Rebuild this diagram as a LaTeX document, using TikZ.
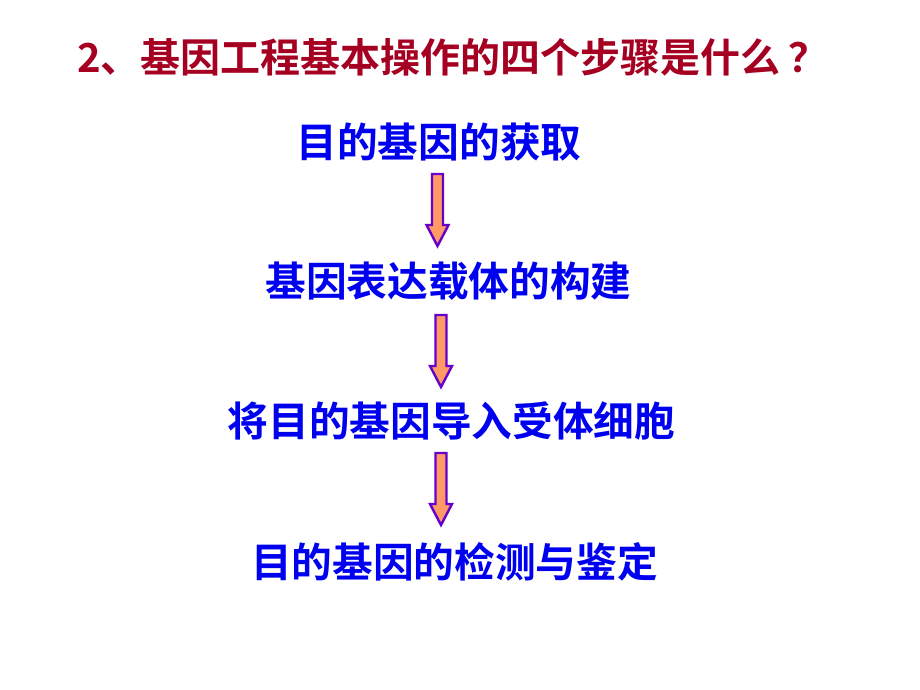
\documentclass[tikz,border=0pt]{standalone}
\usepackage{fontspec}
\newfontfamily\cjk{Noto Sans CJK SC Bold}
\definecolor{titlered}{HTML}{A50021}
\definecolor{stepblue}{HTML}{0000F0}
\definecolor{arrowfill}{HTML}{FF9966}
\definecolor{arrowline}{HTML}{6600CC}
\begin{document}
\begin{tikzpicture}[x=1pt,y=-1pt,
  titletext/.style={font=\cjk\fontsize{40}{44}\selectfont, text=titlered, inner sep=0pt},
  steptext/.style={font=\cjk\fontsize{40.7}{44}\selectfont, text=stepblue, inner sep=0pt},
  downarrow/.style={draw=arrowline, fill=arrowfill, line width=2.4pt, line join=miter}]
\useasboundingbox (0,0) rectangle (920,690);
\node[titletext] (title) at (453,57) {2、基因工程基本操作的四个步骤是什么\kern8pt？};
\node[steptext] (s1) at (439,142) {目的基因的获取};
\node[steptext] (s2) at (448.5,281) {基因表达载体的构建};
\node[steptext] (s3) at (451.5,421) {将目的基因导入受体细胞};
\node[steptext] (s4) at (454.5,562) {目的基因的检测与鉴定};
% arrows
\coordinate (a1) at (437.5,174);
\coordinate (a2) at (441,315);
\coordinate (a3) at (441,453);
\foreach \a in {a1,a2,a3}{
  \draw[downarrow] ([xshift=-5.5pt]\a) -- ([xshift=5.5pt]\a) -- ([xshift=5.5pt,yshift=-51pt]\a)
    -- ([xshift=11pt,yshift=-51pt]\a) -- ([yshift=-72pt]\a) -- ([xshift=-11pt,yshift=-51pt]\a)
    -- ([xshift=-5.5pt,yshift=-51pt]\a) -- cycle;
}
\end{tikzpicture}
\end{document}
